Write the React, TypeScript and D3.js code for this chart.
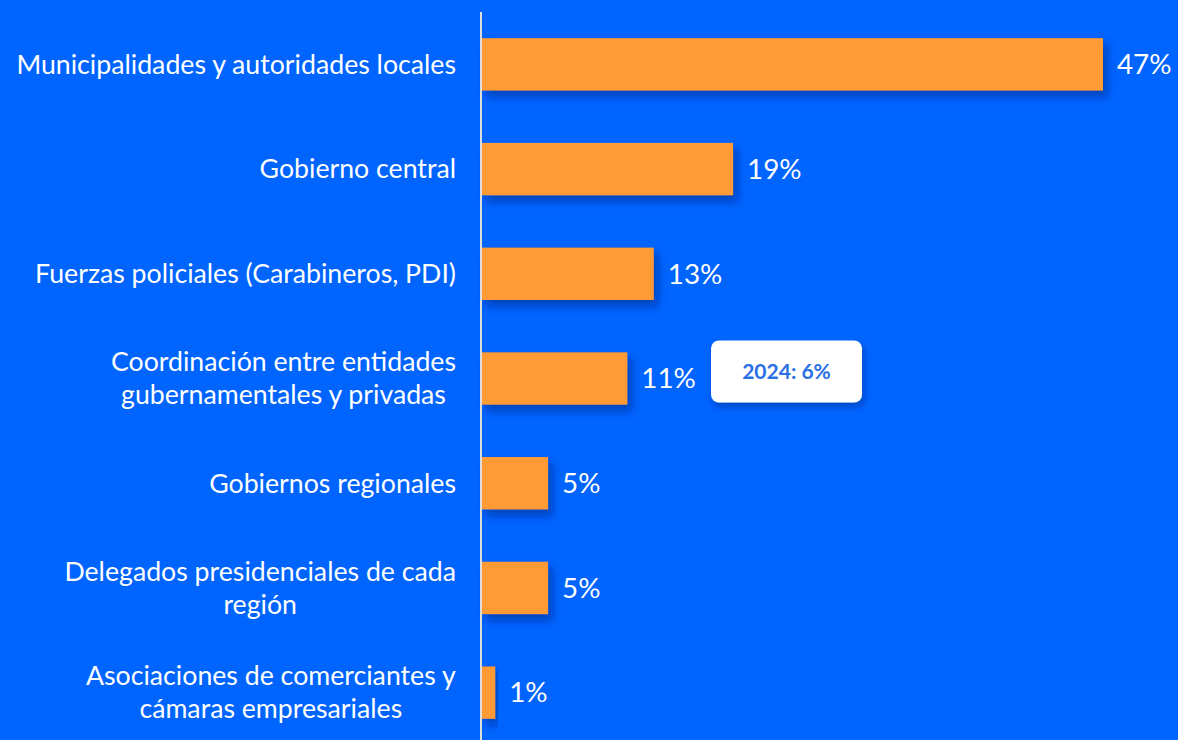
import { scaleBand, scaleLinear } from "d3";

const categories = [
  ["Municipalidades y autoridades locales"],
  ["Gobierno central"],
  ["Fuerzas policiales (Carabineros, PDI)"],
  ["Coordinación entre entidades", "gubernamentales y privadas"],
  ["Gobiernos regionales"],
  ["Delegados presidenciales de cada", "región"],
  ["Asociaciones de comerciantes y", "cámaras empresariales"],
];
const values = [47, 19, 13, 11, 5, 5, 1];
const note = { index: 3, text: "2024: 6%" };

const width = 1178;
const height = 740;
const axisX = 482;
const labelRight = 456;
const font = "Lato, 'Open Sans', sans-serif";
const labelSize = 26.7;
const valueSize = 27.8;

let ctx: CanvasRenderingContext2D | null = null;
function measure(text: string) {
  if (!ctx) ctx = document.createElement("canvas").getContext("2d");
  if (!ctx) return text.length * labelSize * 0.5;
  ctx.font = `${labelSize}px ${font}`;
  return ctx.measureText(text).width;
}

export default function App() {
  const keys = categories.map((c) => c.join(" "));
  const y = scaleBand<string>().domain(keys).range([12, 745]).paddingInner(0.5).paddingOuter(0.25);
  const x = scaleLinear().domain([0, 47]).range([axisX, 1103]);
  const bw = y.bandwidth();

  return (
    <svg
      width={width}
      height={height}
      style={{ position: "fixed", left: 0, top: 0, display: "block", background: "#0064fe" }}
    >
      <defs>
        <filter id="shadow" x="-20%" y="-30%" width="140%" height="170%">
          <feDropShadow dx="4" dy="6" stdDeviation="4" floodColor="#001a66" floodOpacity="0.45" />
        </filter>
        <filter id="tipShadow" x="-20%" y="-30%" width="140%" height="170%">
          <feDropShadow dx="2" dy="4" stdDeviation="3" floodColor="#001a66" floodOpacity="0.4" />
        </filter>
      </defs>
      <rect width={width} height={height} fill="#0064fe" />

      {keys.map((key, i) => {
        const y0 = y(key) ?? 0;
        const cy = y0 + bw / 2;
        const lines = categories[i];
        const lh = 33;
        const multi = lines.length > 1;
        const blockW = multi ? Math.max(...lines.map(measure)) : 0;
        return (
          <g key={key}>
            <rect
              x={axisX}
              y={y0}
              width={x(values[i]) - axisX}
              height={bw}
              fill="#ff9a36"
              filter="url(#shadow)"
            />
            {lines.map((line, j) => (
              <text
                key={line}
                x={multi ? labelRight - blockW / 2 : labelRight}
                y={cy + (j - (lines.length - 1) / 2) * lh}
                dy="0.35em"
                textAnchor={multi ? "middle" : "end"}
                fill="#ffffff"
                fontFamily={font}
                fontSize={labelSize}
              >
                {line}
              </text>
            ))}
            <text
              x={x(values[i]) + 14}
              y={cy}
              dy="0.35em"
              fill="#ffffff"
              fontFamily={font}
              fontSize={valueSize}
            >
              {values[i]}%
            </text>
          </g>
        );
      })}

      <line x1={481} x2={481} y1={12} y2={height} stroke="#dddddd" strokeWidth={2} />

      {(() => {
        const key = keys[note.index];
        const cy = (y(key) ?? 0) + bw / 2;
        const bx = 711;
        return (
          <g>
            <rect
              x={bx}
              y={cy - 38}
              width={151}
              height={62}
              rx={8}
              fill="#ffffff"
              filter="url(#tipShadow)"
            />
            <text
              x={bx + 75.5}
              y={cy - 7}
              dy="0.35em"
              textAnchor="middle"
              fill="#2a6fe4"
              fontFamily={font}
              fontWeight="bold"
              fontSize={21}
            >
              {note.text}
            </text>
          </g>
        );
      })()}
    </svg>
  );
}
